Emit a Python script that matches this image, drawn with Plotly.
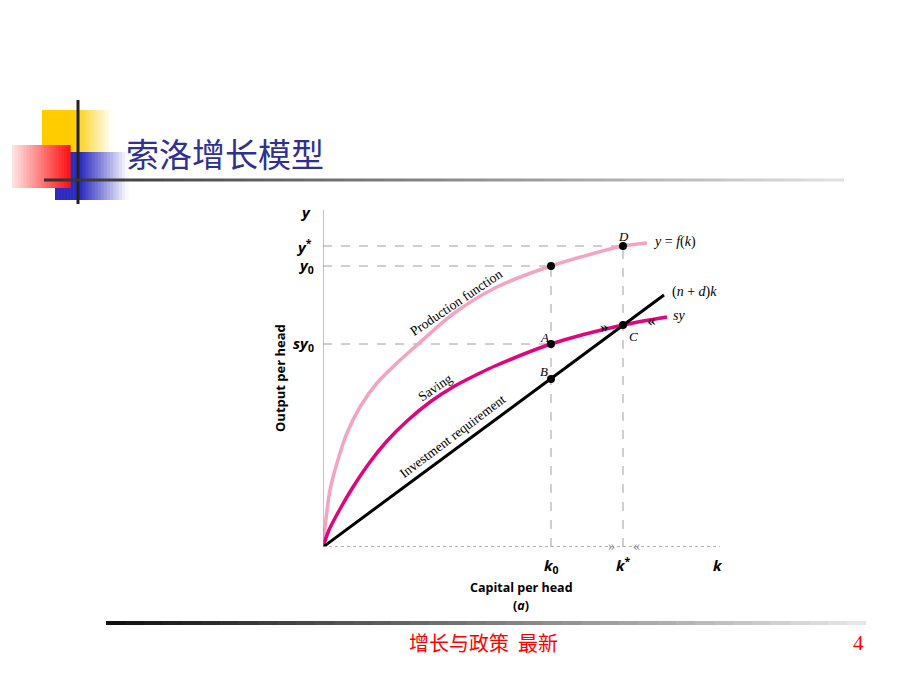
import plotly.graph_objects as go

# ---------------- data (model units) ----------------
prod_k = [0, 2, 7, 14, 24, 37, 54, 74, 94, 130, 172, 228, 300, 324]
prod_y = [0, 20, 57, 84, 114, 140, 164, 184, 202, 233, 259, 281, 301, 304]

save_k = [0, 6, 17, 30, 47, 64, 84, 107, 130, 157, 172, 228, 300, 344]
save_y = [0, 17, 38, 60, 85, 106, 126, 145, 160, 174, 181, 203, 222, 230]

inv_k = [0, 341]
inv_y = [0, 252]

k0, kstar = 228, 300
y0, ystar, sy0 = 281, 301, 203
b_val, c_val = 168, 222

x_max, y_max = 397, 337

W, H = 920, 690
def PX(x):
    return x / W
def PY(y):
    return 1 - y / H

fig = go.Figure()

fig.add_trace(go.Scatter(x=prod_k, y=prod_y, mode="lines", line=dict(color="#f4a3c3", width=3.5, shape="spline", smoothing=0.8), hoverinfo="skip"))
fig.add_trace(go.Scatter(x=save_k, y=save_y, mode="lines", line=dict(color="#e2047f", width=3.5, shape="spline", smoothing=0.8), hoverinfo="skip"))
fig.add_trace(go.Scatter(x=inv_k, y=inv_y, mode="lines", line=dict(color="#000000", width=3), hoverinfo="skip"))
fig.add_trace(go.Scatter(x=[k0, kstar, k0, k0, kstar], y=[y0, ystar, sy0, b_val, c_val], mode="markers",
                         marker=dict(color="black", size=8), hoverinfo="skip"))

shapes = []
# axes
shapes.append(dict(type="line", xref="x", yref="y", x0=0, y0=0, x1=0, y1=y_max, line=dict(color="#8a8a8a", width=1)))
shapes.append(dict(type="line", xref="x", yref="y", x0=0, y0=0, x1=x_max, y1=0, line=dict(color="#9a9a9a", width=1.5, dash="dot")))
# dashed guides
dcol = dict(color="#a0a0a0", width=1, dash="dash")
shapes.append(dict(type="line", xref="x", yref="y", x0=0, y0=ystar, x1=kstar, y1=ystar, line=dcol, layer="below"))
shapes.append(dict(type="line", xref="x", yref="y", x0=0, y0=y0, x1=k0, y1=y0, line=dcol, layer="below"))
shapes.append(dict(type="line", xref="x", yref="y", x0=0, y0=sy0, x1=k0, y1=sy0, line=dcol, layer="below"))
shapes.append(dict(type="line", xref="x", yref="y", x0=k0, y0=0, x1=k0, y1=y0, line=dcol, layer="below"))
shapes.append(dict(type="line", xref="x", yref="y", x0=kstar, y0=0, x1=kstar, y1=ystar, line=dcol, layer="below"))

def hex2rgb(h):
    h = h.lstrip("#")
    return tuple(int(h[i:i+2], 16) for i in (0, 2, 4))

def mix(c0, c1, t):
    a, b = hex2rgb(c0), hex2rgb(c1)
    return "rgb(%d,%d,%d)" % tuple(round(a[i] + (b[i] - a[i]) * t) for i in range(3))

def grad_rect(x0, x1, y0_, y1_, c0, c1, n, solid_frac=0.0):
    out = []
    w = (x1 - x0) / n
    for i in range(n):
        t = (i + 0.5) / n
        tt = 0 if t < solid_frac else (t - solid_frac) / (1 - solid_frac)
        out.append(dict(type="rect", xref="paper", yref="paper",
                        x0=PX(x0 + i * w), x1=PX(x0 + (i + 1) * w + 0.6),
                        y0=PY(y1_), y1=PY(y0_), line=dict(width=0),
                        fillcolor=mix(c0, c1, tt), layer="below"))
    return out

# slide decorations
shapes += grad_rect(42, 112, 110, 153, "#ffcc00", "#ffffff", 24, 0.45)
shapes += grad_rect(55, 128, 152, 200, "#2b2bbf", "#ffffff", 24, 0.35)
shapes += grad_rect(12, 70, 145, 188, "#ffe6e6", "#ff1010", 20, 0.0)
shapes.append(dict(type="line", xref="paper", yref="paper", x0=PX(78), x1=PX(78), y0=PY(100), y1=PY(204),
                   line=dict(color="#222222", width=3)))
shapes += [dict(type="line", xref="paper", yref="paper", x0=PX(44 + i * 20), x1=PX(44 + (i + 1) * 20),
                y0=PY(180), y1=PY(180), line=dict(color=mix("#333333", "#e0e0e0", i / 39), width=3))
           for i in range(40)]
# footer line
shapes += [dict(type="line", xref="paper", yref="paper", x0=PX(106 + i * 19), x1=PX(106 + (i + 1) * 19),
                y0=PY(623), y1=PY(623), line=dict(color=mix("#111111", "#e6e6e6", i / 39), width=4))
           for i in range(40)]

ann = []
def A(text, x, y, xref="paper", yref="paper", size=13, color="black", family="Lato", xanchor="center",
      yanchor="middle", angle=0):
    ann.append(dict(text=text, x=x, y=y, xref=xref, yref=yref, showarrow=False,
                    font=dict(size=size, color=color, family=family), xanchor=xanchor, yanchor=yanchor,
                    textangle=angle))

# title & footer
A("索洛增长模型", PX(124), PY(153), size=33, color="#2e3192", family="Noto Sans CJK SC", xanchor="left")
A("增长与政策  最新", PX(484), PY(642), size=20, color="#ff0000", family="Noto Sans CJK SC")
A("4", PX(858), PY(643), size=21, color="#ff0000", family="Liberation Serif")

sans = "Open Sans"
# y tick labels
A("<b><i>y</i></b>", PX(313), PY(212), size=15, family=sans, xanchor="right")
A("<b><i>y</i><sup>*</sup></b>", PX(314), ystar, yref="y", size=15, family=sans, xanchor="right")
A("<b><i>y</i><sub>0</sub></b>", PX(316), y0, yref="y", size=15, family=sans, xanchor="right")
A("<b><i>sy</i><sub>0</sub></b>", PX(316), sy0, yref="y", size=15, family=sans, xanchor="right")
# x tick labels
A("<b><i>k</i><sub>0</sub></b>", k0, PY(566), xref="x", size=15, family=sans)
A("<b><i>k</i><sup>*</sup></b>", kstar, PY(564), xref="x", size=15, family=sans)
A("<b><i>k</i></b>", PX(718), PY(565), size=15, family=sans)
# axis titles
A("<b>Output per head</b>", PX(280), PY(378), size=13, family=sans, angle=-90)
A("<b>Capital per head</b>", PX(521), PY(587), size=12.5, family=sans)
A("<b>(<i>a</i>)</b>", PX(521), PY(605), size=12.5, family=sans)

serif = "Liberation Serif"
A("Production function", PX(456), PY(302), size=13.5, family=serif, angle=-34)
A("Saving", PX(435), PY(387), size=13.5, family=serif, angle=-34)
A("Investment requirement", PX(452), PY(436), size=13.5, family=serif, angle=-37)

A("<i>D</i>", kstar, PY(236), xref="x", size=13, family=serif)
A("<i>A</i>", PX(544), PY(337), size=13, family=serif)
A("<i>B</i>", PX(544), PY(371), size=13, family=serif)
A("<i>C</i>", PX(633), PY(336), size=13, family=serif)
A("<i>y</i> = <i>f</i>(<i>k</i>)", PX(651), PY(242), size=14, family=serif, xanchor="left")
A("(<i>n</i> + <i>d</i>)<i>k</i>", PX(670), PY(292), size=14, family=serif, xanchor="left")
A("<i>sy</i>", PX(671), PY(316), size=14, family=serif, xanchor="left")

# direction arrows
A("<b>»</b>", PX(604), PY(326), size=16, family=serif, angle=-10)
A("<b>«</b>", PX(651), PY(320), size=16, family=serif, angle=-10)
A("»", PX(611), PY(546), size=14, color="#888888", family=serif)
A("«", PX(636), PY(546), size=14, color="#888888", family=serif)

fig.update_layout(
    width=W, height=H,
    margin=dict(l=0, r=0, t=0, b=0, pad=0),
    paper_bgcolor="white", plot_bgcolor="white",
    showlegend=False,
    xaxis=dict(domain=[PX(323), PX(720)], range=[0, x_max], visible=False, fixedrange=True),
    yaxis=dict(domain=[PY(547), PY(210)], range=[0, y_max], visible=False, fixedrange=True),
    shapes=shapes, annotations=ann,
)

fig.write_html("out.html")
